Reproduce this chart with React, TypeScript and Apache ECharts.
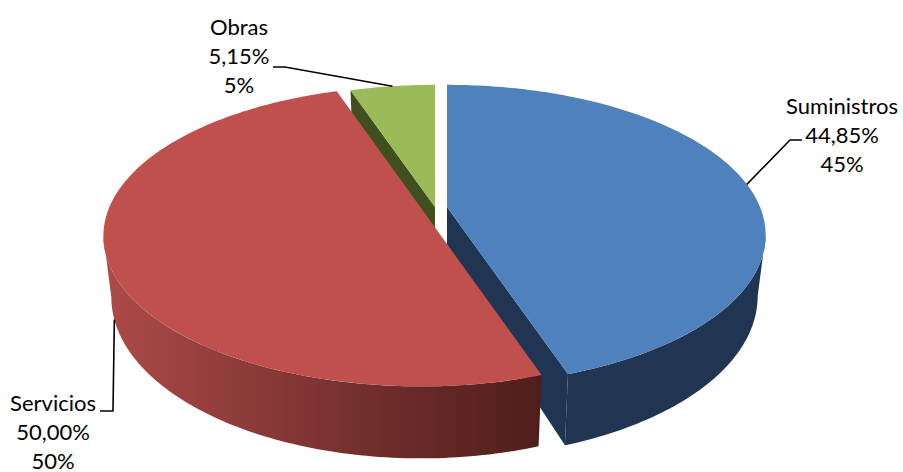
import React, { useEffect, useRef } from "react";
import * as echarts from "echarts";

const categories = ["Suministros", "Servicios", "Obras"];
const shares = [44.85, 50.0, 5.15];
const shareLabels = ["44,85%", "50,00%", "5,15%"];
const roundedLabels = ["45%", "50%", "5%"];

const topColors = ["#4f81bd", "#c0504d", "#9bbb59"];
const apexes = [[447, 207], [421, 208], [435, 207]];
const radiiX = [313, 312, 313];
const radiusY = 145;
const perspective = 0.187;
const wallDrop = 59;
const wallScaleX = 0.975;
const wallScaleY = 1.073;
const drawOrder = [1, 3, 2];
const labelCentres = [[842, 134], [53, 431], [239, 55]];
const leaderBends = [[[802, 140], [790, 140]], [[100, 411], [113, 411]], [[273, 67], [285, 67]]];

function App() {
  const ref = useRef<HTMLDivElement>(null);
  useEffect(() => {
    document.body.style.margin = "0";
    const chart = echarts.init(ref.current!, undefined, { renderer: "svg" });
    const total = shares.reduce((a, b) => a + b, 0);
    const startAngles: number[] = [];
    let acc = 0;
    shares.forEach((s) => {
      startAngles.push((acc / total) * Math.PI * 2);
      acc += s;
    });
    // angle at which the tilted disc reaches its widest point on screen
    const widest = Math.acos(-perspective);

    const project = (i: number, t: number, bottom: boolean): number[] => {
      const w = 1 + perspective * Math.cos(t);
      const sx = bottom ? wallScaleX : 1;
      const sy = bottom ? wallScaleY : 1;
      return [
        apexes[i][0] + (sx * radiiX[i] * Math.sin(t)) / w,
        apexes[i][1] + (bottom ? wallDrop : 0) - (sy * radiusY * Math.cos(t)) / w,
      ];
    };
    const arc = (i: number, a: number, b: number, bottom: boolean) => {
      const n = Math.max(2, Math.ceil(((b - a) * 180) / Math.PI));
      const pts: number[][] = [];
      for (let k = 0; k <= n; k++) pts.push(project(i, a + ((b - a) * k) / n, bottom));
      return pts;
    };
    const apexBottom = (i: number) => [apexes[i][0], apexes[i][1] + wallDrop];

    const renderItem = (params: any, api: any) => {
      const i = params.dataIndex;
      const sweep = (api.value(0) / total) * Math.PI * 2;
      const a = startAngles[i];
      const b = a + sweep;
      const mid = (a + b) / 2;
      const z = drawOrder[i] * 10;
      const children: any[] = [];
      const poly = (points: number[][], fill: any, zz: number) =>
        children.push({ type: "polygon", shape: { points }, style: { fill, stroke: "none" }, z2: z + zz });

      if (i === 0) {
        const endTop = project(i, b, false);
        const endBot = project(i, b, true);
        poly([apexes[i], endTop, endBot, apexBottom(i)], "#1f3552", 0);
        poly([...arc(i, widest, b, false), ...arc(i, widest, b, true).reverse()], "#1f3552", 1);
      } else if (i === 1) {
        const wallFill = new echarts.graphic.LinearGradient(
          100, 0, 540, 0,
          [
            { offset: 0, color: "#ae4b48" },
            { offset: 0.25, color: "#943f3d" },
            { offset: 0.6, color: "#722f2d" },
            { offset: 1, color: "#4f1e1c" },
          ],
          true
        );
        const end = Math.PI * 2 - widest;
        poly([...arc(i, a, end, false), ...arc(i, a, end, true).reverse()], wallFill, 1);
      } else {
        const st = project(i, a, false);
        const stB = project(i, a, true);
        poly([apexes[i], st, stB, apexBottom(i)], "#414f1f", 0);
      }
      poly([apexes[i], ...arc(i, a, b, false)], topColors[i], 2);

      const anchor = i === 1 ? project(i, mid, true) : project(i, mid, false);
      children.push({
        type: "polyline",
        shape: { points: [...leaderBends[i], anchor] },
        style: { stroke: "#000000", lineWidth: 1.6, fill: "none" },
        z2: 100,
      });
      [categories[i], shareLabels[i], roundedLabels[i]].forEach((line, k) => {
        children.push({
          type: "text",
          x: labelCentres[i][0],
          y: labelCentres[i][1] + (k - 1) * 29,
          style: {
            text: line,
            fill: "#000000",
            font: "22px Lato",
            align: "center",
            verticalAlign: "middle",
          },
          z2: 101,
        });
      });
      return { type: "group", children };
    };

    chart.setOption({
      animation: false,
      backgroundColor: "#ffffff",
      series: [
        {
          type: "custom",
          coordinateSystem: "none",
          silent: true,
          data: shares.map((v, i) => ({ name: categories[i], value: [v] })),
          renderItem,
        },
      ],
    });
    return () => chart.dispose();
  }, []);
  return <div ref={ref} style={{ width: 903, height: 472 }} />;
}

export default App;
